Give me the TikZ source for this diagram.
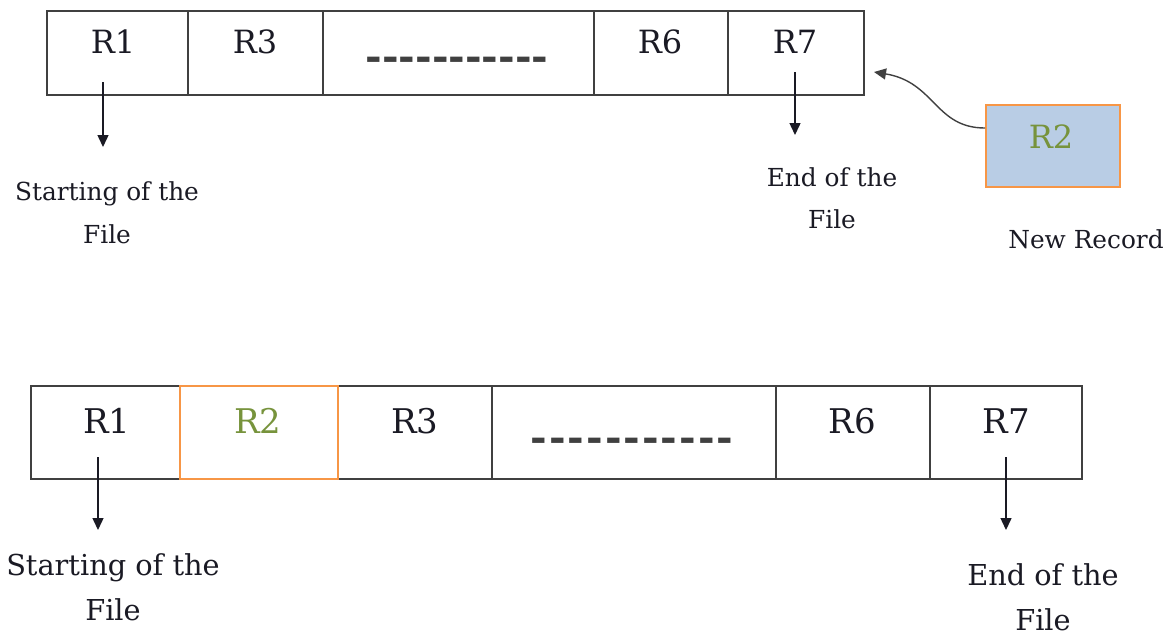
\documentclass[tikz,border=0pt]{standalone}
\usepackage{fontspec}
\setmainfont{DejaVu Serif}
\usetikzlibrary{arrows.meta}

\definecolor{recline}{HTML}{404040}
\definecolor{rectext}{HTML}{1A1A24}
\definecolor{neworange}{HTML}{F79646}
\definecolor{newfill}{HTML}{B9CDE5}
\definecolor{newgreen}{HTML}{77933C}

\tikzset{
  cell/.style={draw=recline, line width=1pt},
  rtop/.style={anchor=base, inner sep=0pt, text=rectext, font=\fontsize{16}{16}\selectfont},
  rbot/.style={anchor=base, inner sep=0pt, text=rectext, font=\fontsize{17}{17}\selectfont},
  notetop/.style={anchor=base, inner sep=0pt, text=rectext, font=\fontsize{12.4}{12.4}\selectfont},
  notebot/.style={anchor=base, inner sep=0pt, text=rectext, font=\fontsize{14.4}{14.4}\selectfont},
  gaprow/.style={inner sep=0pt, text=recline, font=\fontsize{20}{20}\selectfont\bfseries},
  ptr/.style={-{Triangle[length=6pt,width=5.5pt]}, line width=0.7pt, draw=rectext},
  newbox/.style={draw=neworange, fill=newfill, line width=1pt, minimum width=67pt, minimum height=41pt, inner sep=0pt}
}
\newcommand{\gapdashes}[1]{\foreach \k in {1,...,11}{-\kern#1}}

\begin{document}
\begin{tikzpicture}[x=0.5pt,y=-0.5pt]
\useasboundingbox (0,0) rectangle (1176,634);

% file before the insertion
\draw[cell] (47,11) rectangle (864,95);
\foreach \x in {188,323,594,728}
  \draw[cell] (\x,11) -- (\x,95);

\node[rtop] (t1) at (113,53) {R1};
\node[rtop] (t3) at (255,53) {R3};
\node[gaprow] (tgap) at (457,64) {\gapdashes{0pt}};
\node[rtop] (t6) at (660,53) {R6};
\node[rtop] (t7) at (795,53) {R7};

\coordinate (tsa) at (103,82);
\coordinate (tsb) at (103,147);
\draw[ptr] (tsa) -- (tsb);
\node[notetop] (tstart) at (107,200) {Starting of the};
\node[notetop] (tstartf) at (107,243) {File};

\coordinate (tea) at (795,72);
\coordinate (teb) at (795,135);
\draw[ptr] (tea) -- (teb);
\node[notetop] (tend) at (832,186) {End of the};
\node[notetop] (tendf) at (832,228) {File};

% the new record
\node[newbox] (nr) at (1053,146) {};
\node[rtop, text=newgreen] (nrtxt) at (1051,148) {R2};
\node[notetop] (nrnote) at (1086,248) {New Record};
\coordinate (rtip) at (874,72);
\draw[ptr, draw=recline] ([yshift=9pt]nr.west) .. controls (935,128) and (935,82) .. (rtip);

% file after the insertion
\draw[cell] (31,386) rectangle (1082,479);
\foreach \x in {180,338,492,776,930}
  \draw[cell] (\x,386) -- (\x,479);
\draw[draw=neworange, line width=1pt] (180,386) rectangle (338,479);

\node[rbot] (b1) at (107,433) {R1};
\node[rbot, text=newgreen] (b2) at (258,433) {R2};
\node[rbot] (b3) at (415,433) {R3};
\node[gaprow] (bgap) at (633,445) {\gapdashes{1pt}};
\node[rbot] (b6) at (852,433) {R6};
\node[rbot] (b7) at (1006,433) {R7};

\coordinate (bsa) at (98,457);
\coordinate (bsb) at (98,530);
\draw[ptr] (bsa) -- (bsb);
\node[notebot] (bstart) at (113,575) {Starting of the};
\node[notebot] (bstartf) at (113,620) {File};

\coordinate (bea) at (1006,457);
\coordinate (beb) at (1006,530);
\draw[ptr] (bea) -- (beb);
\node[notebot] (bend) at (1043,585) {End of the};
\node[notebot] (bendf) at (1043,630) {File};
\end{tikzpicture}
\end{document}
